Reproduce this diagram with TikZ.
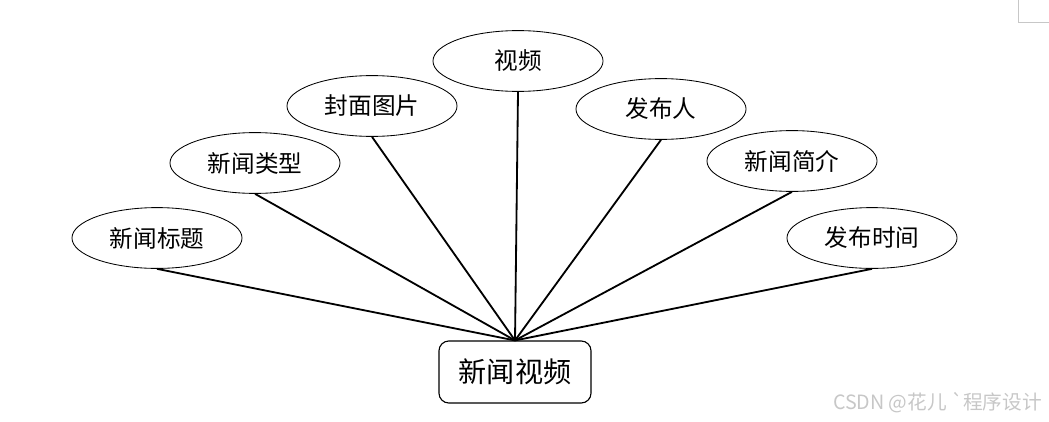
\documentclass[tikz,border=0pt]{standalone}
\usepackage{fontspec}
\usepackage{tikz}
\usetikzlibrary{positioning}
\usetikzlibrary{shapes.geometric}
\newfontfamily\cjk{Noto Sans CJK SC}
\definecolor{markColor}{rgb}{0.78,0.78,0.78}

\begin{document}
\begin{tikzpicture}[x=0.025cm,y=-0.025cm]

          \tikzstyle{attr} = [ellipse,draw,line width=0.6pt,minimum width=4.25cm,minimum height=1.52cm,inner sep=0pt,font=\cjk\fontsize{16.8}{16.8}\selectfont];
          \tikzstyle{entity} = [rectangle,draw,rounded corners=7pt,line width=0.8pt,minimum width=3.8cm,minimum height=1.55cm,font=\cjk\fontsize{20}{20}\selectfont];
          \tikzstyle{link} = [line width=1.3pt];

          \useasboundingbox (0,0) rectangle (1049,421);

          \node[entity] (news) at (515,372) {新闻视频};
          \node[attr] (title) at (157,238) {新闻标题};
          \node[attr] (type) at (255,163) {新闻类型};
          \node[attr] (cover) at (372,106) {封面图片};
          \node[attr] (video) at (518,61) {视频};
          \node[attr] (publisher) at (661,109) {发布人};
          \node[attr] (intro) at (792,161) {新闻简介};
          \node[attr] (time) at (872,238) {发布时间};

          \draw[link] (title.south) -- (news.north);
          \draw[link] (type.south) -- (news.north);
          \draw[link] (cover.south) -- (news.north);
          \draw[link] (video.south) -- (news.north);
          \draw[link] (publisher.south) -- (news.north);
          \draw[link] (intro.south) -- (news.north);
          \draw[link] (time.south) -- (news.north);

          % page corner and watermark
          \draw[markColor,line width=0.6pt] (1018,0) -- (1018,22) -- (1049,22);
          \node[markColor,anchor=east,font=\cjk\fontsize{14}{14}\selectfont] (mark) at (1047,403) {CSDN @花儿 `程序设计};
        \end{tikzpicture}
\end{document}
